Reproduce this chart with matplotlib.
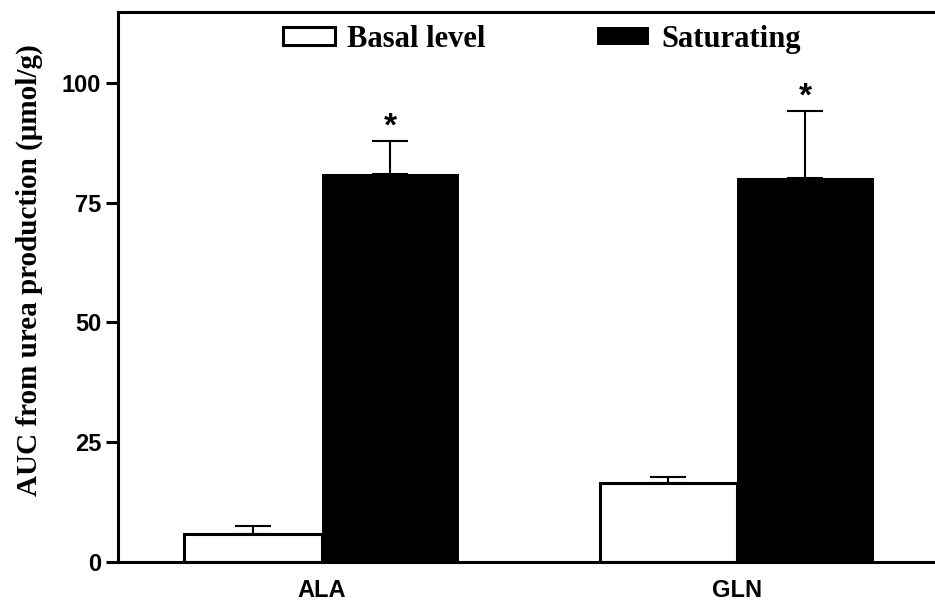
import numpy as np
import matplotlib
matplotlib.use('Agg')
import matplotlib.pyplot as plt

# data
groups = ['ALA', 'GLN']
basal = [5.8, 16.5]
basal_err = [1.7, 1.3]
saturating = [81.0, 80.2]
saturating_err = [6.8, 14.0]
yticks = [0, 25, 50, 75, 100]

fig = plt.figure(figsize=(9.35, 6.06), dpi=100)
ax = fig.add_axes([118/935, 1 - 562/606, 1 - 118/935, 550/606])

x = np.arange(len(groups))
w = 0.33

zeros = [0] * len(groups)
ax.bar(x - w/2, basal, w, facecolor='white', edgecolor='black', linewidth=2.2,
       yerr=[zeros, basal_err], error_kw=dict(ecolor='black', elinewidth=1.5, capsize=13, capthick=1.5),
       label='Basal level', zorder=2)
ax.bar(x + w/2, saturating, w, facecolor='black', edgecolor='black', linewidth=0,
       yerr=[zeros, saturating_err], error_kw=dict(ecolor='black', elinewidth=1.5, capsize=13, capthick=1.5),
       label='Saturating', zorder=2)

# significance marks
for xi, v, e in zip(x, saturating, saturating_err):
    ax.text(xi + w/2, v + e - 0.3, '*', ha='center', va='bottom',
            fontsize=24, fontweight='bold', family='Liberation Sans')

ax.set_xlim(-0.49, 1.477)
ax.set_ylim(0, 114.8)
ax.set_xticks(x)
ax.set_xticklabels(groups, family='Liberation Sans', fontweight='bold', fontsize=17)
ax.set_yticks(yticks)
ax.set_yticklabels([str(t) for t in yticks], family='Liberation Sans', fontweight='bold', fontsize=17)
ax.tick_params(axis='x', length=0, pad=12)
ax.tick_params(axis='y', length=9, width=2.2, pad=3)

ax.set_ylabel(u'AUC from urea production (\u03bcmol/g)', family='Liberation Serif',
              fontweight='bold', fontsize=21)
ax.yaxis.set_label_coords(-0.092, 0.53)

for s in ['left', 'bottom', 'top']:
    ax.spines[s].set_linewidth(2.2)
ax.spines['right'].set_visible(False)

leg = ax.legend(loc='upper left', bbox_to_anchor=(0.202, 0.977), ncol=2, frameon=False,
                prop={'family': 'Liberation Serif', 'weight': 'bold', 'size': 22},
                handlelength=1.7, handleheight=0.52, columnspacing=3.65, handletextpad=0.4,
                borderpad=0, borderaxespad=0)

fig.savefig('out.png', dpi=100)
